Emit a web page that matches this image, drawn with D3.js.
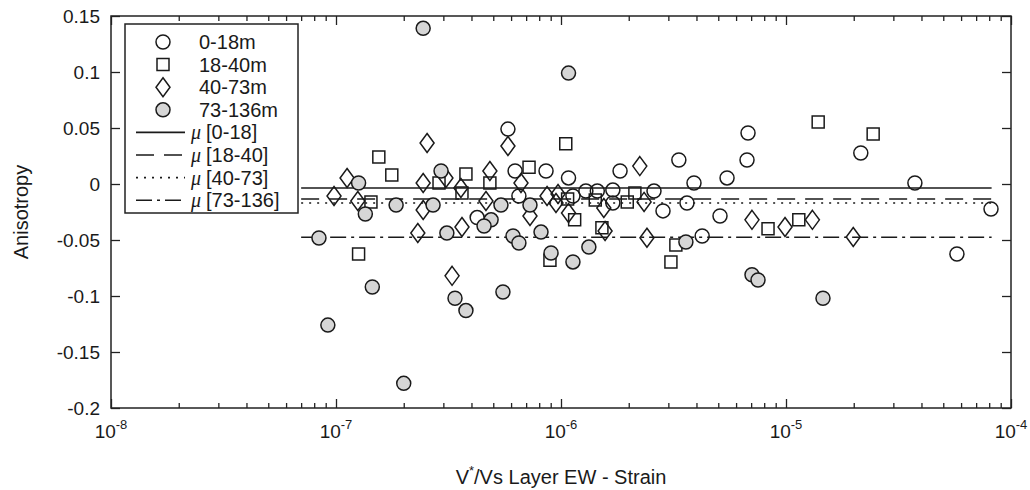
<!DOCTYPE html>
<html lang="en">
<head>
<meta charset="utf-8">
<title>Anisotropy vs strain</title>
<script src="https://d3js.org/d3.v7.min.js"></script>
<style>
body {margin: 0; background: #fff;}
text {font-family: "Liberation Sans", Arial, Helvetica, sans-serif; fill: #1a1a1a;}
</style>
</head>
<body>
<div id="my_dataviz"></div>
<script>

// ---- values ----
// 0-18m (open circles)
var strain0_18 = [5.81e-7, 6.25e-7, 8.58e-7, 1.08e-6, 6.5e-7, 1.13e-6, 4.24e-7, 1.29e-6, 1.45e-6, 1.70e-6,
                  1.70e-6, 1.83e-6, 2.59e-6, 2.84e-6, 3.34e-6, 3.63e-6, 3.90e-6, 4.24e-6, 5.09e-6, 5.47e-6,
                  6.71e-6, 6.78e-6, 2.15e-5, 3.74e-5, 5.75e-5, 8.15e-5];
var aniso0_18  = [0.049, 0.0116, 0.0116, 0.0054, -0.0107, -0.0107, -0.030, -0.0063, -0.0063, -0.0054,
                  -0.017, 0.0116, -0.0063, -0.024, 0.0214, -0.017, 0.0009, -0.0464, -0.0286, 0.0054,
                  0.0214, 0.0455, 0.0277, 0.0009, -0.0625, -0.0223];

// 18-40m (squares)
var strain18_40 = [1.55e-7, 1.77e-7, 1.43e-7, 1.26e-7, 2.87e-7, 3.78e-7, 3.63e-7, 4.83e-7, 7.21e-7, 1.05e-6,
                   1.07e-6, 1.15e-6, 8.93e-7, 1.42e-6, 1.97e-6, 2.13e-6, 1.52e-6, 3.24e-6, 3.08e-6, 1.39e-5,
                   2.44e-5, 8.32e-6, 1.14e-5];
var aniso18_40  = [0.024, 0.008, -0.016, -0.0625, 0.001, 0.009, -0.008, 0.001, 0.015, 0.036,
                   -0.0134, -0.032, -0.068, -0.0143, -0.016, -0.008, -0.039, -0.0545, -0.0696, 0.0554,
                   0.0446, -0.040, -0.032];

// 40-73m (diamonds)
var strain40_73 = [1.12e-7, 9.8e-8, 1.25e-7, 2.54e-7, 2.44e-7, 2.44e-7, 2.31e-7, 3.08e-7, 3.59e-7, 4.83e-7,
                   5.81e-7, 6.64e-7, 4.64e-7, 7.28e-7, 8.67e-7, 9.7e-7, 9.5e-7, 1.08e-6, 1.57e-6, 1.55e-6,
                   2.24e-6, 2.34e-6, 2.41e-6, 3.63e-7, 3.28e-7, 7.06e-6, 9.9e-6, 1.31e-5, 1.99e-5];
var aniso40_73  = [0.0054, -0.0107, -0.0152, 0.0366, 0.0009, -0.0232, -0.0438, 0.0054, -0.0036, 0.0116,
                   0.0339, 0.0009, -0.0152, -0.0286, -0.0107, -0.0089, -0.017, -0.0259, -0.042, -0.0214,
                   0.016, -0.016, -0.048, -0.0384, -0.082, -0.032, -0.0384, -0.032, -0.0473];

// 73-136m (grey filled circles)
var strain73_136 = [2.44e-7, 1.08e-6, 1.26e-7, 1.35e-7, 1.85e-7, 8.4e-8, 2.93e-7, 2.70e-7, 3.11e-7, 1.45e-7,
                    3.38e-7, 9.2e-8, 2.0e-7, 5.41e-7, 7.28e-7, 4.89e-7, 4.55e-7, 6.12e-7, 6.5e-7, 8.15e-7,
                    9.03e-7, 1.33e-6, 1.13e-6, 3.59e-6, 3.78e-7, 5.52e-7, 7.06e-6, 7.51e-6, 1.46e-5];
var aniso73_136  = [0.139, 0.099, 0.0009, -0.0268, -0.0188, -0.0482, 0.0116, -0.0188, -0.0438, -0.092,
                    -0.102, -0.126, -0.178, -0.0188, -0.0188, -0.032, -0.0375, -0.0464, -0.0527, -0.0429,
                    -0.0616, -0.0563, -0.0696, -0.0518, -0.113, -0.0964, -0.081, -0.0857, -0.102];

// group means (horizontal lines) and their strain extent
var meanNames  = ["[0-18]", "[18-40]", "[40-73]", "[73-136]"];
var meanValues = [-0.0036, -0.0134, -0.017, -0.0475];
var meanStrainRange = [7e-8, 8.2e-5];

// legend / series names
var seriesNames = ["0-18m", "18-40m", "40-73m", "73-136m"];

// axis ticks
var xMajorTicks = [1e-8, 1e-7, 1e-6, 1e-5, 1e-4];
var xTickExponents = ["-8", "-7", "-6", "-5", "-4"];
var yTicks = [-0.2, -0.15, -0.1, -0.05, 0, 0.05, 0.1, 0.15];
var yTickLabels = ["-0.2", "-0.15", "-0.1", "-0.05", "0", "0.05", "0.1", "0.15"];

// ---- layout ----
var margin = {top: 16, right: 19, bottom: 82, left: 111},
    width = 1030 - margin.left - margin.right,
    height = 490 - margin.top - margin.bottom;

var svg = d3.select("#my_dataviz")
  .append("svg")
    .attr("width", 1030)
    .attr("height", 490)
  .append("g")
    .attr("transform", "translate(" + margin.left + "," + margin.top + ")");

var x = d3.scaleLog().domain([1e-8, 1e-4]).range([0, width]);
var y = d3.scaleLinear().domain([-0.2, 0.15]).range([height, 0]);

// minor ticks on the log axis
var xMinorTicks = [];
xMajorTicks.slice(0, -1).forEach(function(d) {
  for (var k = 2; k <= 9; k++) xMinorTicks.push(k * d);
});

var axisColor = "#222";

function styleAxis(g) {
  g.select(".domain").remove();
  g.selectAll("line").attr("stroke", axisColor).attr("stroke-width", 1.3);
}

// bottom and top: major + minor ticks pointing inwards
svg.append("g").attr("transform", "translate(0," + height + ")")
  .call(d3.axisBottom(x).tickValues(xMajorTicks).tickSize(-9).tickFormat(""))
  .call(styleAxis);
svg.append("g").attr("transform", "translate(0," + height + ")")
  .call(d3.axisBottom(x).tickValues(xMinorTicks).tickSize(-5).tickFormat(""))
  .call(styleAxis);
svg.append("g")
  .call(d3.axisTop(x).tickValues(xMajorTicks).tickSize(-9).tickFormat(""))
  .call(styleAxis);
svg.append("g")
  .call(d3.axisTop(x).tickValues(xMinorTicks).tickSize(-5).tickFormat(""))
  .call(styleAxis);

// left and right
var yAxisLeft = svg.append("g")
  .call(d3.axisLeft(y).tickValues(yTicks).tickSize(-9).tickPadding(11)
    .tickFormat(function(d, i) { return yTickLabels[i]; }))
  .call(styleAxis);
yAxisLeft.selectAll("text")
  .style("font-size", "19px")
  .attr("fill", "#1a1a1a");

svg.append("g").attr("transform", "translate(" + width + ",0)")
  .call(d3.axisRight(y).tickValues(yTicks).tickSize(-9).tickFormat(""))
  .call(styleAxis);

// x tick labels: 10 with superscript exponent
var xLabels = svg.append("g").selectAll("text")
  .data(xMajorTicks)
  .enter()
  .append("text")
    .attr("x", function(d) { return x(d); })
    .attr("y", height + 30)
    .attr("text-anchor", "middle")
    .style("font-size", "19px");
xLabels.append("tspan").text("10");
xLabels.append("tspan")
  .attr("dy", -9)
  .style("font-size", "13px")
  .text(function(d, i) { return xTickExponents[i]; });

// frame
svg.append("rect")
  .attr("width", width)
  .attr("height", height)
  .attr("fill", "none")
  .attr("stroke", axisColor)
  .attr("stroke-width", 1.5);

// axis titles
var xTitle = svg.append("text")
  .attr("x", width / 2)
  .attr("y", height + 76)
  .attr("text-anchor", "middle")
  .style("font-size", "20px");
xTitle.append("tspan").text("V");
xTitle.append("tspan").attr("dy", -9).style("font-size", "13px").text("*");
xTitle.append("tspan").attr("dy", 9).text("/Vs Layer EW - Strain");

svg.append("text")
  .attr("transform", "rotate(-90)")
  .attr("x", -height / 2)
  .attr("y", -83)
  .attr("text-anchor", "middle")
  .style("font-size", "20px")
  .text("Anisotropy");

// ---- mean lines ----
var dashes = [null, "18,10", "2,6", "16,5,3,5"];

svg.append("g").selectAll("line")
  .data(meanValues)
  .enter()
  .append("line")
    .attr("x1", x(meanStrainRange[0]))
    .attr("x2", x(meanStrainRange[1]))
    .attr("y1", function(d) { return y(d); })
    .attr("y2", function(d) { return y(d); })
    .attr("stroke", "#1a1a1a")
    .attr("stroke-width", 1.6)
    .attr("stroke-dasharray", function(d, i) { return dashes[i]; });

// ---- markers ----
var markerStroke = "#1a1a1a";
var greyFill = "#d6d6d6";

var circleSym  = d3.symbol().type(d3.symbolCircle).size(Math.PI * 7 * 7);
function squarePath(s) { return "M" + (-s) + "," + (-s) + "H" + s + "V" + s + "H" + (-s) + "Z"; }
function diamondPath(w, h) { return "M0," + (-h) + "L" + w + ",0L0," + h + "L" + (-w) + ",0Z"; }

var markerPaths = [circleSym(), squarePath(6), diamondPath(7, 9.5), circleSym()];
var markerFills = ["none", "none", "none", greyFill];

var groups = [
  {xs: strain0_18,   ys: aniso0_18},
  {xs: strain18_40,  ys: aniso18_40},
  {xs: strain40_73,  ys: aniso40_73},
  {xs: strain73_136, ys: aniso73_136}
];

groups.forEach(function(g, gi) {
  svg.append("g").selectAll("path")
    .data(g.xs.map(function(v, i) { return [v, g.ys[i]]; }))
    .enter()
    .append("path")
      .attr("d", markerPaths[gi])
      .attr("transform", function(d) { return "translate(" + x(d[0]) + "," + y(d[1]) + ")"; })
      .attr("fill", markerFills[gi])
      .attr("stroke", markerStroke)
      .attr("stroke-width", 1.5);
});

// ---- legend ----
var legend = svg.append("g").attr("transform", "translate(" + (125 - margin.left) + "," + (24 - margin.top) + ")");
legend.append("rect")
  .attr("width", 173)
  .attr("height", 189)
  .attr("fill", "#fff")
  .attr("stroke", axisColor)
  .attr("stroke-width", 1.5);

var rowY = function(i) { return 18 + i * 22.6; };

seriesNames.forEach(function(name, i) {
  legend.append("path")
    .attr("d", markerPaths[i])
    .attr("transform", "translate(38," + rowY(i) + ")")
    .attr("fill", markerFills[i])
    .attr("stroke", markerStroke)
    .attr("stroke-width", 1.5);
  legend.append("text")
    .attr("x", 74)
    .attr("y", rowY(i) + 7)
    .style("font-size", "20px")
    .text(name);
});

meanNames.forEach(function(name, i) {
  var yy = rowY(i + 4);
  legend.append("line")
    .attr("x1", 11).attr("x2", 60)
    .attr("y1", yy).attr("y2", yy)
    .attr("stroke", "#1a1a1a")
    .attr("stroke-width", 1.6)
    .attr("stroke-dasharray", dashes[i]);
  var t = legend.append("text")
    .attr("x", 66)
    .attr("y", yy + 7)
    .style("font-size", "20px");
  t.append("tspan")
    .style("font-family", "'Liberation Serif', 'Times New Roman', serif")
    .style("font-style", "italic")
    .text("\u03bc ");
  t.append("tspan").text(name);
});

</script>
</body>
</html>
